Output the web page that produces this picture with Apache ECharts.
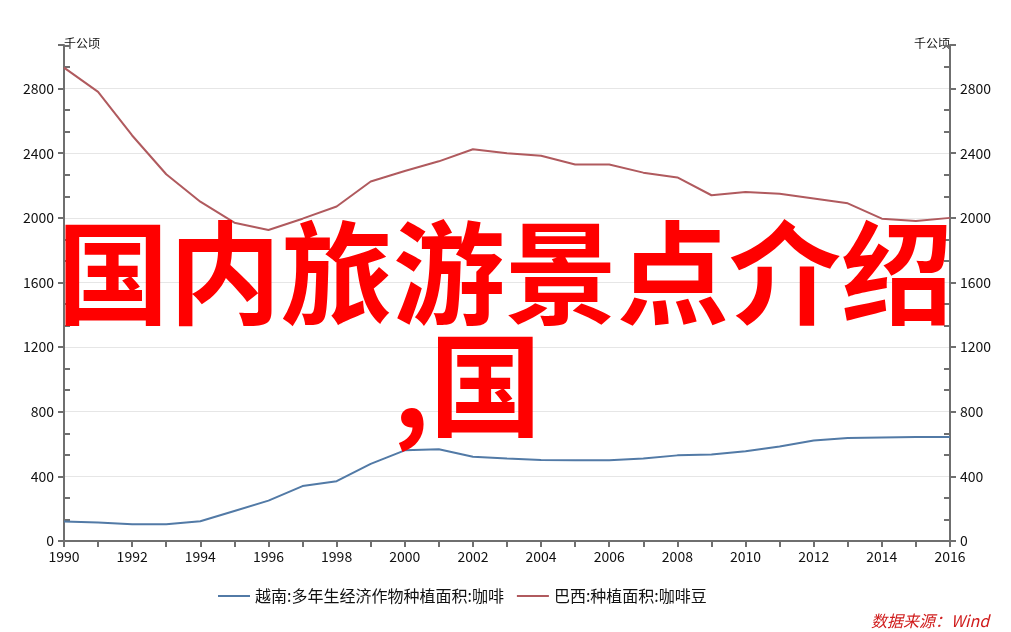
<!DOCTYPE html>
<html>
<head>
<meta charset="utf-8">
<script src="https://cdn.jsdelivr.net/npm/echarts@6/dist/echarts.min.js"></script>
<style>
html,body{margin:0;padding:0;background:#fff;}
#c{width:1011px;height:632px;}
</style>
</head>
<body>
<div id="c"></div>
<script>
const years = ['1990','1991','1992','1993','1994','1995','1996','1997','1998','1999','2000','2001','2002','2003','2004','2005','2006','2007','2008','2009','2010','2011','2012','2013','2014','2015','2016'];
const vietnamName = '越南:多年生经济作物种植面积:咖啡';
const brazilName = '巴西:种植面积:咖啡豆';
const vietnam = [120,115,103,103,122,186,250,340,370,477,561,568,522,511,501,500,500,510,530,536,555,585,622,637,641,643,643];
const brazil = [2930,2780,2510,2270,2100,1970,1925,1995,2070,2225,2290,2350,2425,2400,2385,2330,2330,2280,2250,2140,2160,2150,2120,2090,1995,1980,2000];
const unitName = '千公顷';
const sourceText = '数据来源：Wind';
const overlayLine1 = '国内旅游景点介绍';
const overlayLine2 = ',国';

const axisColor = '#6f6f6f';
const gridColor = '#e6e6e6';
const font = '"Microsoft YaHei","Noto Sans CJK SC","Noto Sans",sans-serif';

function yAxis(pos) {
  return {
    type: 'value', position: pos, min: 0, max: 3070, interval: 400,
    name: unitName, nameLocation: 'end', nameGap: 2,
    nameTextStyle: { color: '#111', fontSize: 12, fontFamily: font, align: pos === 'left' ? 'left' : 'right', verticalAlign: 'middle' },
    axisLine: { show: true, lineStyle: { color: axisColor, width: 2 } },
    axisTick: { show: true, length: 6, lineStyle: { color: axisColor, width: 2 } },
    minorTick: { show: true, splitNumber: 3, length: -6, lineStyle: { color: axisColor, width: 2 } },
    axisLabel: { color: '#111', fontSize: 14, fontFamily: font, margin: 10, showMaxLabel: false, formatter: function (v) { return String(v); } },
    splitLine: { show: pos === 'left', lineStyle: { color: [gridColor,gridColor,gridColor,gridColor,gridColor,gridColor,gridColor,gridColor,'rgba(0,0,0,0)'], width: 1 } }
  };
}

const chart = echarts.init(document.getElementById('c'), null, { renderer: 'canvas' });
chart.setOption({
  backgroundColor: '#ffffff',
  animation: false,
  grid: { left: 64, right: 61, top: 45, bottom: 91 },
  legend: {
    bottom: 28, left: 218, padding: 0, itemWidth: 32, itemHeight: 2, itemGap: 13,
    icon: 'rect',
    textStyle: { color: '#111', fontSize: 16, fontFamily: font, padding: [0,0,0,0] },
    data: [vietnamName, brazilName]
  },
  xAxis: {
    type: 'category', data: years, boundaryGap: false,
    axisLine: { show: true, lineStyle: { color: axisColor, width: 2 } },
    axisTick: { show: true, interval: 0, length: 6, lineStyle: { color: axisColor, width: 2 } },
    axisLabel: { interval: 1, color: '#111', fontSize: 14, fontFamily: font, margin: 9 },
    splitLine: { show: false }
  },
  yAxis: [yAxis('left'), yAxis('right')],
  series: [
    { name: vietnamName, type: 'line', data: vietnam, showSymbol: false, symbol: 'none', lineStyle: { color: '#527aa6', width: 2 }, itemStyle: { color: '#527aa6' }, z: 3 },
    { name: brazilName, type: 'line', data: brazil, showSymbol: false, symbol: 'none', lineStyle: { color: '#b05a5e', width: 2 }, itemStyle: { color: '#b05a5e' }, z: 3 }
  ],
  graphic: [
    { type: 'text', left: 871, top: 613, z: 10, style: { text: sourceText, fill: '#d01c1c', font: 'italic 16px ' + font } },
    { type: 'text', x: 57, y: 217, z: 20, style: { text: overlayLine1, fill: '#ff0000', font: 'bold 112px "Noto Sans CJK SC"', textVerticalAlign: 'top' } },
    { type: 'text', x: 393, y: 329, z: 20, style: { text: overlayLine2, fill: '#ff0000', font: 'bold 112px "Noto Sans CJK SC"', textVerticalAlign: 'top' } }
  ]
});
</script>
</body>
</html>
